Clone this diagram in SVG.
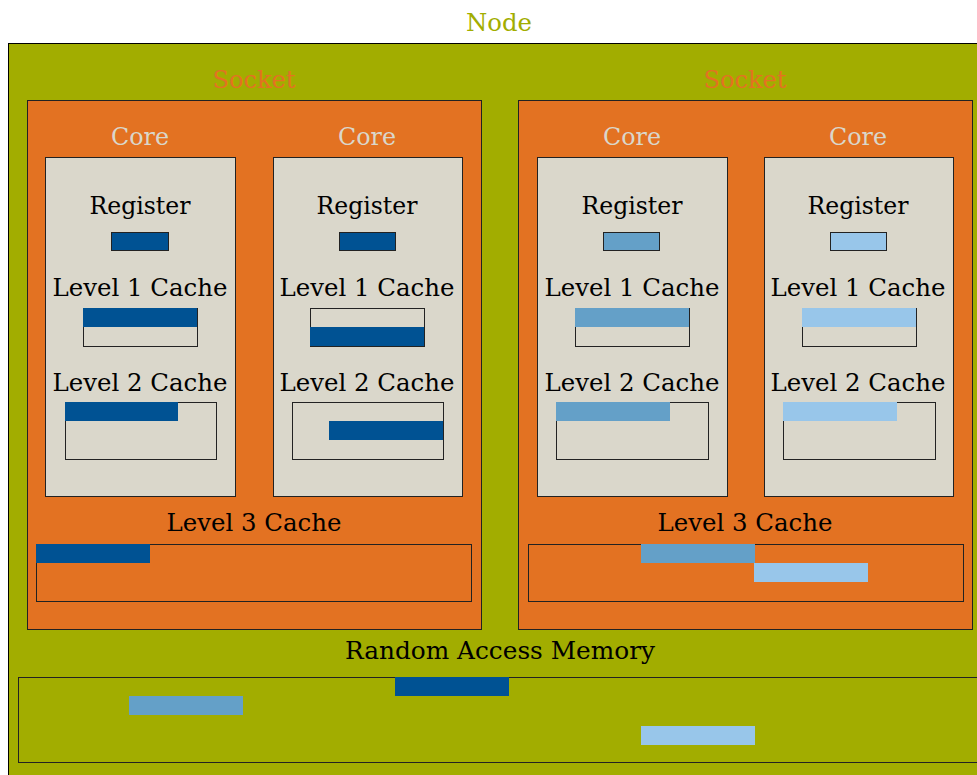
<svg xmlns="http://www.w3.org/2000/svg" width="977" height="775" viewBox="0 0 977 775">
<style>
text{font-family:"DejaVu Serif","Liberation Serif",serif;font-size:25px;text-anchor:middle;fill:#000}
.node{fill:#a2ad00;stroke:#000;stroke-width:1}
.sock{fill:#e37222;stroke:#222;stroke-width:1}
.core{fill:#dad7cb;stroke:#222;stroke-width:1}
.box{fill:none;stroke:#222;stroke-width:1}
.lbox{fill:#dad7cb;stroke:#222;stroke-width:1}
.d{fill:#005293}.m{fill:#64a0c8}.l{fill:#98c6ea}
.tn{fill:#a2ad00}.ts{fill:#e37222}.tc{fill:#dad7cb}
</style>
<rect width="977" height="775" fill="#fff"/>
<g id="node">
<text class="tn" x="499" y="31" textLength="66" lengthAdjust="spacingAndGlyphs">Node</text>
<rect class="node" x="8.5" y="43.5" width="980" height="740"/>
</g>
<g id="socket1">
<text class="ts" x="254" y="88" textLength="83" lengthAdjust="spacingAndGlyphs">Socket</text>
<rect class="sock" x="27.5" y="100.5" width="454" height="529"/>
</g>
<g id="socket2">
<text class="ts" x="745" y="88" textLength="83" lengthAdjust="spacingAndGlyphs">Socket</text>
<rect class="sock" x="518.5" y="100.5" width="454" height="529"/>
</g>
<g id="core1">
<text class="tc" x="140" y="145" textLength="58" lengthAdjust="spacingAndGlyphs">Core</text>
<rect class="core" x="45.5" y="157.5" width="190" height="339"/>
<text x="140" y="214" textLength="101" lengthAdjust="spacingAndGlyphs">Register</text>
<rect class="d" x="111" y="232" width="58" height="19"/>
<rect class="box" x="111.5" y="232.5" width="57" height="18"/>
<text x="140" y="296" textLength="175" lengthAdjust="spacingAndGlyphs">Level 1 Cache</text>
<rect class="lbox" x="83.5" y="308.5" width="114" height="38"/>
<rect class="d" x="83" y="308" width="114" height="19"/>
<text x="140" y="391" textLength="175" lengthAdjust="spacingAndGlyphs">Level 2 Cache</text>
<rect class="lbox" x="65.5" y="402.5" width="151" height="57"/>
<rect class="d" x="65" y="402" width="113" height="19"/>
</g>
<g id="core2">
<text class="tc" x="367" y="145" textLength="58" lengthAdjust="spacingAndGlyphs">Core</text>
<rect class="core" x="273.5" y="157.5" width="189" height="339"/>
<text x="367" y="214" textLength="101" lengthAdjust="spacingAndGlyphs">Register</text>
<rect class="d" x="339" y="232" width="57" height="19"/>
<rect class="box" x="339.5" y="232.5" width="56" height="18"/>
<text x="367" y="296" textLength="175" lengthAdjust="spacingAndGlyphs">Level 1 Cache</text>
<rect class="lbox" x="310.5" y="308.5" width="114" height="38"/>
<rect class="d" x="310" y="327" width="114" height="19"/>
<text x="367" y="391" textLength="175" lengthAdjust="spacingAndGlyphs">Level 2 Cache</text>
<rect class="lbox" x="292.5" y="402.5" width="151" height="57"/>
<rect class="d" x="329" y="421" width="114" height="19"/>
</g>
<g id="core3">
<text class="tc" x="632" y="145" textLength="58" lengthAdjust="spacingAndGlyphs">Core</text>
<rect class="core" x="537.5" y="157.5" width="190" height="339"/>
<text x="632" y="214" textLength="101" lengthAdjust="spacingAndGlyphs">Register</text>
<rect class="m" x="603" y="232" width="57" height="19"/>
<rect class="box" x="603.5" y="232.5" width="56" height="18"/>
<text x="632" y="296" textLength="175" lengthAdjust="spacingAndGlyphs">Level 1 Cache</text>
<rect class="lbox" x="575.5" y="308.5" width="114" height="38"/>
<rect class="m" x="575" y="308" width="114" height="19"/>
<text x="632" y="391" textLength="175" lengthAdjust="spacingAndGlyphs">Level 2 Cache</text>
<rect class="lbox" x="556.5" y="402.5" width="152" height="57"/>
<rect class="m" x="556" y="402" width="114" height="19"/>
</g>
<g id="core4">
<text class="tc" x="858" y="145" textLength="58" lengthAdjust="spacingAndGlyphs">Core</text>
<rect class="core" x="764.5" y="157.5" width="189" height="339"/>
<text x="858" y="214" textLength="101" lengthAdjust="spacingAndGlyphs">Register</text>
<rect class="l" x="830" y="232" width="57" height="19"/>
<rect class="box" x="830.5" y="232.5" width="56" height="18"/>
<text x="858" y="296" textLength="175" lengthAdjust="spacingAndGlyphs">Level 1 Cache</text>
<rect class="lbox" x="802.5" y="308.5" width="114" height="38"/>
<rect class="l" x="802" y="308" width="114" height="19"/>
<text x="858" y="391" textLength="175" lengthAdjust="spacingAndGlyphs">Level 2 Cache</text>
<rect class="lbox" x="783.5" y="402.5" width="152" height="57"/>
<rect class="l" x="783" y="402" width="114" height="19"/>
</g>
<g id="l3cache1">
<text x="254" y="531" textLength="175" lengthAdjust="spacingAndGlyphs">Level 3 Cache</text>
<rect class="box" x="36.5" y="544.5" width="435" height="57"/>
<rect class="d" x="36" y="544" width="114" height="19"/>
</g>
<g id="l3cache2">
<text x="745" y="531" textLength="175" lengthAdjust="spacingAndGlyphs">Level 3 Cache</text>
<rect class="box" x="528.5" y="544.5" width="435" height="57"/>
<rect class="m" x="641" y="544" width="114" height="19"/>
<rect class="l" x="754" y="563" width="114" height="19"/>
</g>
<g id="ram">
<text x="500" y="659" textLength="310" lengthAdjust="spacingAndGlyphs">Random Access Memory</text>
<rect class="box" x="18.5" y="677.5" width="980" height="85"/>
<rect class="d" x="395" y="677" width="114" height="19"/>
<rect class="m" x="129" y="696" width="114" height="19"/>
<rect class="l" x="641" y="726" width="114" height="19"/>
</g>
<g id="connectors"></g>
</svg>
